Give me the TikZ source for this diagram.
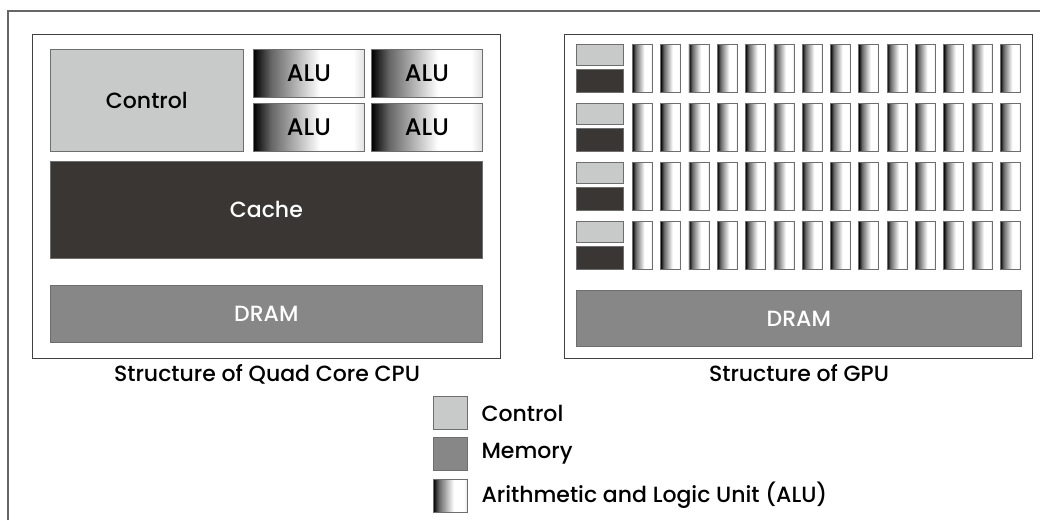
\documentclass[tikz,border=0pt]{standalone}
\usepackage{fontspec}
\setmainfont{Poppins}[UprightFont={Poppins Medium}]
\definecolor{ctrlgray}{HTML}{C8C9C9}
\definecolor{memgray}{HTML}{878787}
\definecolor{cachegray}{HTML}{3A3634}
\definecolor{boxline}{HTML}{6E6E6E}
\pgfdeclarehorizontalshading{alushade}{100bp}{color(0bp)=(black); color(25bp)=(black); color(33bp)=(black!60); color(55bp)=(white); color(70bp)=(white); color(75bp)=(black!12); color(100bp)=(black!12)}
\tikzset{
            unit/.style={draw=boxline, line width=0.7pt, inner sep=0pt, anchor=north west},
            ctrl/.style={unit, fill=ctrlgray},
            mem/.style={unit, fill=memgray, text=white},
            cachebox/.style={unit, fill=cachegray, text=white},
            alu/.style={unit, shading=alushade, shading angle=0},
            frame/.style={draw=black!75, line width=1pt, anchor=north west, inner sep=0pt}
        }

\begin{document}
\begin{tikzpicture}[
                    x=1pt, y=-1pt,
                    every node/.style={font=\fontsize{22}{24}\selectfont}
                    ]
                \useasboundingbox (0,0) rectangle (1040,520);
                \draw[black!60, line width=1.2pt] (8,520) -- (8,11) -- (1040,11);
                % CPU
                \node[frame, minimum width=468pt, minimum height=324pt] (cpu) at (32,34) {};
                \node[ctrl, minimum width=193pt, minimum height=102pt] (cpuctrl) at (50,49) {Control};
                \node[alu, minimum width=111pt, minimum height=48pt, font=\fontsize{24}{26}\selectfont] (alu1) at (253,49) {ALU};
                \node[alu, minimum width=111pt, minimum height=48pt, font=\fontsize{24}{26}\selectfont] (alu2) at (371,49) {ALU};
                \node[alu, minimum width=111pt, minimum height=48pt, font=\fontsize{24}{26}\selectfont] (alu3) at (253,103) {ALU};
                \node[alu, minimum width=111pt, minimum height=48pt, font=\fontsize{24}{26}\selectfont] (alu4) at (371,103) {ALU};
                \node[cachebox, minimum width=432pt, minimum height=97pt] (cache) at (50,161) {Cache};
                \node[mem, minimum width=432pt, minimum height=57pt] (cpudram) at (50,285) {DRAM};
                \node (cpulabel) at (267,374) {Structure of Quad Core CPU};
                % GPU
                \node[frame, minimum width=468pt, minimum height=324pt] (gpu) at (564,34) {};
                \foreach \r in {0,...,3} {
                    \node[ctrl, minimum width=47pt, minimum height=21pt] (gctrl-\r) at (576,44+59*\r) {};
                    \node[cachebox, minimum width=47pt, minimum height=23pt] (gcache-\r) at (576,69+59*\r) {};
                    \foreach \c in {0,...,13}
                        \node[alu, minimum width=20pt, minimum height=48pt] (galu-\r-\c) at (632+28.3*\c,44+59*\r) {};
                }
                \node[mem, minimum width=445pt, minimum height=56pt] (gpudram) at (576,290) {DRAM};
                \node (gpulabel) at (799,373) {Structure of GPU};
                % legend
                \node[ctrl, minimum width=34pt, minimum height=33pt] (keyctrl) at (433,396) {};
                \node[mem, minimum width=34pt, minimum height=33pt] (keymem) at (433,437) {};
                \node[alu, minimum width=34pt, minimum height=33pt] (keyalu) at (433,479) {};
                \node[anchor=west] (txtctrl) at (478,413) {Control};
                \node[anchor=west] (txtmem) at (478,454) {Memory};
                \node[anchor=west] (txtalu) at (478,495) {Arithmetic and Logic Unit (ALU)};
            \end{tikzpicture}
\end{document}
